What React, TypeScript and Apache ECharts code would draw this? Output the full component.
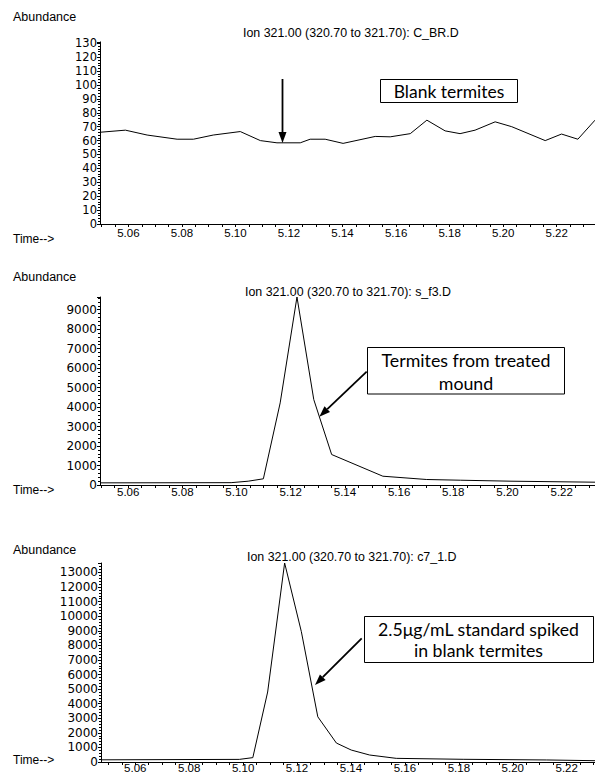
import React, { useEffect, useRef } from "react";
import * as echarts from "echarts";

// Panel 1: C_BR.D (blank termites)
const times1 = [5.0494, 5.0589, 5.067, 5.0782, 5.0843, 5.0917, 5.1018, 5.1093, 5.1155, 5.1242, 5.1279, 5.1335, 5.1402, 5.1522, 5.1578, 5.1653, 5.1715, 5.1783, 5.1839, 5.1895, 5.197, 5.2032, 5.2157, 5.2218, 5.2279, 5.2343];
const values1 = [66, 67.5, 64, 61, 61, 64, 66.5, 60, 58.4, 58.4, 61, 61, 58, 63, 62.7, 65, 74.7, 67, 65, 67.5, 73.5, 70, 60, 64.7, 61, 74.7];

// Panel 2: s_f3.D (termites from treated mound)
const times2 = [5.0496, 5.098, 5.1043, 5.1099, 5.1161, 5.1223, 5.1285, 5.1351, 5.154, 5.1702, 5.1826, 5.2013, 5.2323];
const values2 = [110, 120, 195, 318, 4215, 9650, 4385, 1564, 451, 282, 246, 195, 144];

// Panel 3: c7_1.D (2.5 µg/mL standard spiked)
const times3 = [5.0473, 5.0986, 5.1036, 5.1091, 5.1154, 5.1216, 5.1277, 5.1346, 5.1401, 5.1469, 5.1568, 5.1816, 5.2126, 5.2305];
const values3 = [150, 180, 300, 4800, 13650, 8940, 3100, 1300, 820, 480, 250, 185, 140, 90];

const xLabelValues = [5.06, 5.08, 5.1, 5.12, 5.14, 5.16, 5.18, 5.2, 5.22];
const titles = [
  "Ion 321.00 (320.70 to 321.70): C_BR.D",
  "Ion 321.00 (320.70 to 321.70): s_f3.D",
  "Ion 321.00 (320.70 to 321.70): c7_1.D",
];
const notes = [
  ["Blank termites"],
  ["Termites from treated", "mound"],
  ["2.5\u03bcg/mL standard spiked", "in blank termites"],
];

const xTickValues: number[] = [];
for (let i = 0; i <= 37; i++) xTickValues.push(+(5.05 + i * 0.005).toFixed(3));

const SMALL = "'Liberation Sans', Arial, sans-serif";
const YFONT = "'DejaVu Sans', sans-serif";
const NOTE = "Lato, 'Open Sans', sans-serif";

function arrow(x1: number, y1: number, x2: number, y2: number) {
  const dx = x2 - x1, dy = y2 - y1;
  const len = Math.sqrt(dx * dx + dy * dy);
  const ux = dx / len, uy = dy / len;
  const L = 11, W = 8;
  const bx = x2 - ux * L, by = y2 - uy * L;
  const px = -uy * (W / 2), py = ux * (W / 2);
  return [
    { type: "line", shape: { x1, y1, x2: bx, y2: by }, style: { stroke: "#000", lineWidth: 1.8 } },
    { type: "polygon", shape: { points: [[x2, y2], [bx + px, by + py], [bx - px, by - py]] }, style: { fill: "#000" } },
  ];
}

function txt(text: string, x: number, y: number, size: number, family: string, align = "left") {
  return {
    type: "text",
    style: { text, x, y, fontSize: size, fontFamily: family, fill: "#000", align, verticalAlign: "middle", textAlign: align, textVerticalAlign: "middle" },
  };
}

export default function App() {
  const ref = useRef<HTMLDivElement>(null);
  useEffect(() => {
    if (!ref.current) return;
    const chart = echarts.init(ref.current, null, { renderer: "svg" });
    const grids = [
      { left: 100, top: 41.9, width: 495, height: 182.1 },
      { left: 100, top: 297, width: 495, height: 188 },
      { left: 101, top: 563, width: 494, height: 199 },
    ];
    const xr = [
      [5.0494, 5.2343],
      [5.0496, 5.2323],
      [5.0473, 5.2305],
    ];
    const yr = [
      { max: 131, interval: 10, font: 11.5 },
      { max: 9650, interval: 1000, font: 12 },
      { max: 13650, interval: 1000, font: 12 },
    ];
    const xMargins = [3, 1, 0];
    const series = [
      [times1, values1],
      [times2, values2],
      [times3, values3],
    ];
    const axisLine = { show: true, onZero: false, lineStyle: { color: "#000", width: 1 } };
    const option: any = {
      animation: false,
      backgroundColor: "#fff",
      grid: grids.map((g) => ({ ...g, containLabel: false, outerBoundsMode: "none" })),
      xAxis: xr.map((r, i) => ({
        type: "value",
        gridIndex: i,
        min: r[0],
        max: r[1],
        axisLine,
        splitLine: { show: false },
        axisTick: {
          show: true,
          length: 3,
          lineStyle: { color: "#000" },
          customValues: xTickValues.filter((v) => v >= r[0] && v <= r[1]),
        },
        axisLabel: {
          customValues: xLabelValues,
          formatter: (v: number) => v.toFixed(2),
          fontSize: 11.5,
          lineHeight: 12,
          fontFamily: SMALL,
          color: "#000",
          margin: xMargins[i],
        },
      })),
      yAxis: yr.map((r, i) => ({
        type: "value",
        gridIndex: i,
        min: 0,
        max: r.max,
        interval: r.interval,
        axisLine,
        splitLine: { show: false },
        axisTick: { show: true, length: 3, lineStyle: { color: "#000" } },
        minorTick: { show: true, splitNumber: 5, length: 2, lineStyle: { color: "#000" } },
        minorSplitLine: { show: false },
        axisLabel: {
          fontSize: r.font,
          lineHeight: r.font,
          fontFamily: YFONT,
          color: "#000",
          margin: 3,
          showMaxLabel: false,
          formatter: (v: number) => String(v),
        },
      })),
      series: series.map(([t, v], i) => ({
        type: "line",
        xAxisIndex: i,
        yAxisIndex: i,
        data: (t as number[]).map((x, j) => [x, (v as number[])[j]]),
        symbol: "none",
        showSymbol: false,
        lineStyle: { color: "#000", width: 1 },
        clip: true,
      })),
      graphic: [
        txt("Abundance", 13, 17, 12.5, SMALL),
        txt("Abundance", 13, 277, 12.5, SMALL),
        txt("Abundance", 13, 550, 12.5, SMALL),
        txt(titles[0], 243, 33, 12.4, SMALL),
        txt(titles[1], 245, 292, 12.4, SMALL),
        txt(titles[2], 247, 557, 12.4, SMALL),
        txt("Time-->", 13, 239, 12, SMALL),
        txt("Time-->", 13, 490, 12, SMALL),
        txt("Time-->", 13, 760, 12, SMALL),
        { type: "rect", shape: { x: 380.5, y: 79.5, width: 137, height: 23 }, style: { fill: "#fff", stroke: "#000", lineWidth: 1 } },
        txt(notes[0][0], 449, 91, 17.5, NOTE, "center"),
        { type: "rect", shape: { x: 367.5, y: 347.5, width: 197, height: 46.5 }, style: { fill: "#fff", stroke: "#000", lineWidth: 1 } },
        txt(notes[1][0], 466, 360, 17.8, NOTE, "center"),
        txt(notes[1][1], 466, 382.5, 17.8, NOTE, "center"),
        { type: "rect", shape: { x: 364.5, y: 616.5, width: 229, height: 46 }, style: { fill: "#fff", stroke: "#000", lineWidth: 1 } },
        txt(notes[2][0], 478.5, 629.5, 17.7, NOTE, "center"),
        txt(notes[2][1], 478.5, 650.5, 17.7, NOTE, "center"),
        ...arrow(282.5, 79, 282.5, 143),
        ...arrow(366.7, 371.7, 319.3, 416.7),
        ...arrow(361.7, 638.3, 315, 685),
      ],
    };
    chart.setOption(option);
    return () => chart.dispose();
  }, []);
  return <div ref={ref} style={{ position: "absolute", left: 0, top: 0, width: 595, height: 775, background: "#fff" }} />;
}
